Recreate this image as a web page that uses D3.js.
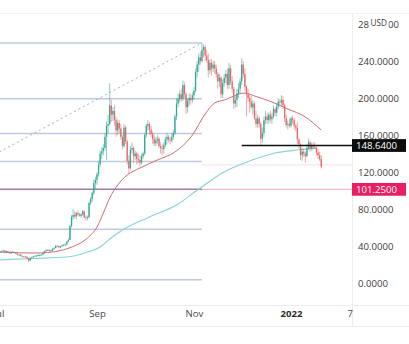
<!DOCTYPE html>
<html><head><meta charset="utf-8">
<script src="https://cdn.jsdelivr.net/npm/d3@7"></script>
<style>body{margin:0;background:#fff;}svg{display:block;}</style>
</head><body>
<svg id="chart" width="409" height="344"></svg>
<script>
// ---------- DATA ----------
const firstCandleDate = "2021-07-01"; // daily candles, one per day
const opens = [
 35.0,33.4,33.9,34.4,35.1,33.6,34.4,33.7,32.2,33.8,33.1,33.4,31.6,30.6,30.8,29.3,28.6,28.6,28.4,26.5,24.4,27.0,27.9,28.8,29.5,29.6,30.0,30.3,30.6,32.3,34.5,
 35.5,35.3,35.6,34.8,37.1,37.9,40.1,39.8,38.5,39.8,40.7,41.3,41.7,44.8,46.5,61.5,71.5,73.5,72.0,75.5,74.0,72.5,74.0,77.5,71.0,70.5,71.0,86.5,91.0,97.5,108.0,
 111.5,117.5,128,140,142.5,146,158,170,172,192,182,186,176,165,173,167,158,148,168,153,132,124,144,146,137,140,134,133,130,137,
 140,160,170,172,166,161,156,151,154,156,148,146,145,149,155,158,155,154,158,162,180,194,199,204,199,214,204,190,197,200,198,
 203,208,228,236,244,240,252,255,246,241,230,238,232,236,232,226,218,222,204,216,222,226,214,232,218,210,194,198,205,210,
 218,236,226,212,204,200,196,190,194,178,172,178,172,156,162,176,180,176,182,177,180,188,184,191,196,195,198,192,178,171,172,
 170,178,176,170,168,155,150,138,142,140,137,146,152,145,149,147,146,141,138,134
];
const highs = [
 35.5,34.3,35.0,36.0,35.3,35.2,35.0,33.9,34.2,34.3,34.0,33.6,31.9,31.3,31.0,29.9,29.2,29.6,28.6,26.8,27.8,28.3,29.2,30.0,30.1,31.5,30.9,31.2,32.8,35.0,36.4,
 36.6,36.5,36.0,37.6,38.9,40.9,41.0,40.4,40.5,41.6,42.0,42.8,45.2,48.5,63.0,73.5,80.0,77.5,77.0,78.5,76.0,75.5,79.0,78.5,72.5,73.0,88.0,93.0,99.0,112.0,115.0,
 120,132,143,147,150,162,175,182,216,198,190,192,180,177,176,172,160,172,170,155,138,148,152,148,143,142,140,138,140,142,
 162,172,176,174,170,164,160,158,160,158,152,150,152,158,162,160,158,162,166,182,200,205,208,210,219,217,206,200,205,204,206,
 212,232,240,248,250,259.5,258,257,252,248,242,242,240,240,236,228,226,224,220,226,230,232,238,236,224,212,202,210,216,222,
 243,240,232,214,210,204,202,198,196,186,182,180,174,168,180,186,184,184,186,184,192,190,194,200,199,203,202,194,182,176,178,
 180,181,178,172,174,157,151,146,145,142,150,156,154,152,152,152,148,145,142,138
];
const lows = [
 32.6,32.5,33.2,33.8,32.9,33.1,33.3,31.2,31.6,32.6,32.5,31.0,30.0,29.2,28.6,28.0,28.0,27.8,26.0,22.6,23.8,26.5,27.4,28.4,28.6,29.0,28.8,29.8,30.2,31.8,34.0,
 34.6,34.4,33.6,34.2,35.8,37.3,38.8,37.6,37.4,39.0,39.9,39.7,41.2,44.0,46.0,60.0,68.0,70.0,69.0,73.0,71.5,70.5,72.5,70.0,67.5,68.0,70.5,84.0,88.0,95.0,101.0,
 106,115,125,134,138,143,133,162,170,174,175,170,158,160,162,155,144,146,150,128,118,122,140,130,133,128,130,126,128,134,
 138,157,165,160,158,150,148,148,150,146,140,138,140,147,150,152,150,152,155,160,176,190,195,196,197,200,183,184,192,193,195,
 198,206,222,228,236,238,244,240,238,222,226,224,228,226,222,210,212,200,200,212,216,210,210,214,206,188,190,190,200,205,
 214,222,208,180,196,184,188,182,176,168,168,168,149,152,158,172,172,172,174,172,178,180,180,188,190,192,188,174,168,166,168,
 168,172,166,164,150,145,133,132,136,130,136,144,142,143,144,145,138,134,132,124
];
const closes = [
 33.4,33.9,34.4,35.1,33.6,34.4,33.7,32.2,33.8,33.1,33.4,31.6,30.6,30.8,29.3,28.6,28.6,28.4,26.5,24.4,27.0,27.9,28.8,29.5,29.6,30.0,30.3,30.6,32.3,34.5,35.5,
 35.3,35.6,34.8,37.1,37.9,40.1,39.8,38.5,39.8,40.7,41.3,41.7,44.8,46.5,61.5,71.5,73.5,72.0,75.5,74.0,72.5,74.0,77.5,71.0,70.5,71.0,86.5,91.0,97.5,108.0,111.5,
 117.5,128,140,142.5,146,158,170,172,192,182,186,176,165,173,167,158,148,168,153,132,124,144,146,137,140,134,133,130,137,140,
 160,170,172,166,161,156,151,154,156,148,146,145,149,155,158,155,154,158,162,180,194,199,204,199,214,204,190,197,200,198,203,
 208,228,236,244,240,252,255,246,241,230,238,232,236,232,226,218,222,204,216,222,226,214,232,218,210,194,198,205,210,218,
 236,226,212,204,200,196,190,194,178,172,178,172,156,162,176,180,176,182,177,180,188,184,191,196,195,198,192,178,171,172,170,
 178,176,170,168,155,150,138,142,140,137,146,152,145,149,147,146,141,138,134,126
];

// moving averages (date, value)
const redMaDates = ["2021-07-01","2021-07-23","2021-08-01","2021-08-09","2021-08-17","2021-08-26","2021-09-01","2021-09-05","2021-09-09","2021-09-14","2021-09-20","2021-09-28","2021-10-09","2021-10-20","2021-10-31","2021-11-08","2021-11-14","2021-11-20","2021-12-03","2021-12-09","2021-12-20","2021-12-30","2022-01-10","2022-01-20"];
const redMaValues = [33.5,32.4,33.0,35.1,39.5,48.6,60.5,75.7,91.9,105.9,116.8,124.3,133.0,141.6,160.0,182.7,194.6,197.8,205.4,202.2,195.7,188.1,179.5,165.4];
const tealMaDates = ["2021-07-01","2021-07-23","2021-08-13","2021-08-26","2021-09-03","2021-09-09","2021-09-17","2021-10-04","2021-10-21","2021-11-04","2021-11-21","2021-12-01","2021-12-13","2021-12-22","2022-01-05","2022-01-17"];
const tealMaValues = [24.9,26.5,28.1,33.5,38.9,47.6,57.3,71.4,84.3,101.6,121.1,128.6,136.2,140.5,143.8,145.9];

// fibonacci retracement (anchor points and levels)
const fibStartDate = "2021-02-02", fibStartPrice = 3.4;
const fibEndDate = "2021-11-06", fibEndPrice = 259.5;
const fibLevels = [0, 0.236, 0.382, 0.5, 0.618, 0.786, 1];

// horizontal lines
const blackLinePrice = 148.64, blackLineFrom = "2021-12-01";
const pinkLinePrice = 101.25;
const lastLineFrom = "2021-11-06";

// axis ticks
const yTickValues = [0, 40, 80, 120, 160, 200, 240, 280];
const xTickDates = ["2021-07-01","2021-09-01","2021-11-01","2022-01-01","2022-02-07"];
const xTickLabels = ["Jul","Sep","Nov","2022","7"];
const currencyLabel = "USD";

// ---------- DRAW ----------
const parse = d3.timeParse("%Y-%m-%d");
const start = parse(firstCandleDate);
const candles = closes.map((c, i) => ({
  date: d3.timeDay.offset(start, i), o: opens[i], h: highs[i], l: lows[i], c
}));

const W = 409, H = 344, plotR = 352, plotT = 13, plotB = 305;
const x = d3.scaleTime().domain([parse("2021-07-01"), parse("2022-01-01")]).range([-1.6, 291]);
const y = d3.scaleLinear().domain([0, 240]).range([283, 61]);
const font = "'Open Sans', 'Liberation Sans', Arial, sans-serif";

const svg = d3.select("#chart");
svg.append("rect").attr("width", W).attr("height", H).attr("fill", "#fff");
svg.append("defs").append("clipPath").attr("id", "plot")
  .append("rect").attr("x", 0).attr("y", plotT).attr("width", plotR).attr("height", plotB - plotT);

// frame lines
const frame = svg.append("g").attr("stroke", "#ececef").attr("stroke-width", 1);
frame.append("line").attr("x1", 0).attr("x2", W).attr("y1", plotT + 0.5).attr("y2", plotT + 0.5).attr("stroke", "#f3f3f5");
frame.append("line").attr("x1", 0).attr("x2", W).attr("y1", plotB + 0.5).attr("y2", plotB + 0.5);
frame.append("line").attr("x1", 0).attr("x2", W).attr("y1", 326.5).attr("y2", 326.5);
frame.append("line").attr("x1", plotR + 0.5).attr("x2", plotR + 0.5).attr("y1", plotT).attr("y2", 327);

const g = svg.append("g").attr("clip-path", "url(#plot)");

// fib lines
const fx0 = x(parse(fibStartDate)), fx1 = x(parse(fibEndDate));
fibLevels.forEach(lv => {
  const p = fibEndPrice - lv * (fibEndPrice - fibStartPrice);
  g.append("line").attr("x1", fx0).attr("x2", fx1).attr("y1", y(p)).attr("y2", y(p))
    .attr("stroke", lv === 0.618 ? "#a47aa8" : "#c0cad9").attr("stroke-width", 1.5);
});
g.append("line").attr("x1", fx0).attr("x2", fx1).attr("y1", y(fibStartPrice)).attr("y2", y(fibEndPrice))
  .attr("stroke", "#a3acbd").attr("stroke-width", 1).attr("stroke-dasharray", "2,3");

// horizontal lines
g.append("line").attr("x1", x(parse(fibEndDate))).attr("x2", plotR)
  .attr("y1", y(pinkLinePrice)).attr("y2", y(pinkLinePrice)).attr("stroke", "#f2a6bc").attr("stroke-width", 1);
g.append("line").attr("x1", x(parse(lastLineFrom))).attr("x2", plotR)
  .attr("y1", y(closes[closes.length - 1]) - 1.5).attr("y2", y(closes[closes.length - 1]) - 1.5)
  .attr("stroke", "#f6dde2").attr("stroke-width", 1);

// moving averages
const line = d3.line().x(d => x(d[0])).y(d => y(d[1])).curve(d3.curveMonotoneX);
g.append("path").datum(tealMaDates.map((d, i) => [parse(d), tealMaValues[i]]))
  .attr("d", line).attr("fill", "none").attr("stroke", "#8ad4d4").attr("stroke-width", 1.2);
g.append("path").datum(redMaDates.map((d, i) => [parse(d), redMaValues[i]]))
  .attr("d", line).attr("fill", "none").attr("stroke", "#cf6b76").attr("stroke-width", 1);

// candles
const up = "#2fa898", down = "#ec6464";
const cg = g.append("g");
cg.selectAll("line.w").data(candles).join("line")
  .attr("x1", d => x(d.date)).attr("x2", d => x(d.date))
  .attr("y1", d => y(d.h)).attr("y2", d => y(d.l))
  .attr("stroke", d => d.c >= d.o ? up : down).attr("stroke-width", 0.8).attr("opacity", 0.7);
cg.selectAll("rect.b").data(candles).join("rect")
  .attr("x", d => x(d.date) - 0.65).attr("width", 1.3)
  .attr("y", d => y(Math.max(d.o, d.c)))
  .attr("height", d => Math.max(0.8, Math.abs(y(d.o) - y(d.c))))
  .attr("fill", d => d.c >= d.o ? up : down);

// black line
g.append("line").attr("x1", x(parse(blackLineFrom))).attr("x2", plotR)
  .attr("y1", y(blackLinePrice)).attr("y2", y(blackLinePrice)).attr("stroke", "#111").attr("stroke-width", 1.3);

// right axis
const yAxis = svg.append("g").attr("transform", `translate(${plotR},0)`)
  .call(d3.axisRight(y).tickValues(yTickValues).tickFormat(d3.format(".4f")).tickSize(0).tickPadding(6));
yAxis.select(".domain").remove();
yAxis.selectAll("text").attr("font-family", font).attr("font-size", 9.6).attr("fill", "#3c3c3c");

// USD overlay
svg.append("rect").attr("x", 369).attr("y", 16).attr("width", 19.5).attr("height", 12).attr("fill", "#fff");
svg.append("text").attr("x", 378.7).attr("y", 25.5).attr("text-anchor", "middle")
  .attr("font-family", font).attr("font-size", 8.2).attr("fill", "#3c3c3c").text(currencyLabel);

// price labels
function priceTag(price, bg) {
  const cy = y(price);
  svg.append("rect").attr("x", plotR).attr("y", cy - 6.4).attr("width", 54).attr("height", 12.8).attr("fill", bg);
  svg.append("text").attr("x", plotR + 4).attr("y", cy).attr("dy", "0.35em")
    .attr("font-family", font).attr("font-size", 9.6).attr("fill", "#fff").text(d3.format(".4f")(price));
}
priceTag(blackLinePrice, "#0c0c0c");
priceTag(pinkLinePrice, "#e91e63");

// bottom axis
const xAxis = svg.append("g").attr("transform", "translate(0,310)")
  .call(d3.axisBottom(x).tickValues(xTickDates.map(parse))
    .tickFormat((d, i) => xTickLabels[i]).tickSize(0).tickPadding(0));
xAxis.select(".domain").remove();
xAxis.selectAll("text").attr("font-family", font).attr("font-size", 9.6)
  .attr("fill", (d, i) => xTickLabels[i] === "2022" ? "#2e2e2e" : "#4a4a4a")
  .attr("font-weight", (d, i) => xTickLabels[i] === "2022" ? "bold" : "normal");
</script>
</body></html>
